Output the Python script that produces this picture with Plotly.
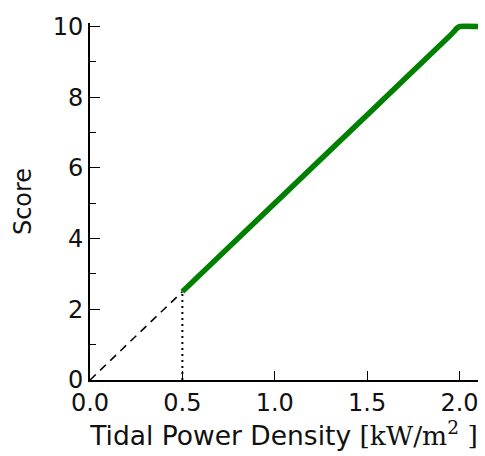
import plotly.graph_objects as go

# Score curve (green)
score_x = [0.5, 1.0, 1.5, 1.95, 1.97, 1.985, 2.0, 2.1]
score_y = [2.5, 5.0, 7.5, 9.75, 9.86, 9.95, 10.0, 10.0]
# Extrapolated dashed part
dash_x = [0.0, 0.5]
dash_y = [0.0, 2.5]
# Dotted threshold marker
dot_x = [0.5, 0.5]
dot_y = [0.0, 2.5]

x_ticks = [0.0, 0.5, 1.0, 1.5, 2.0]
x_ticklabels = ["0.0", "0.5", "1.0", "1.5", "2.0"]
y_ticks = [0, 2, 4, 6, 8, 10]

font = "DejaVu Sans, sans-serif"

fig = go.Figure()
fig.add_trace(go.Scatter(x=dash_x, y=dash_y, mode="lines",
                         line=dict(color="black", width=1.6, dash="8px,6px"), showlegend=False))
fig.add_trace(go.Scatter(x=dot_x, y=dot_y, mode="lines",
                         line=dict(color="black", width=2, dash="2px,4px"), showlegend=False))
fig.add_trace(go.Scatter(x=score_x, y=score_y, mode="lines",
                         line=dict(color="#008000", width=5.5, shape="spline", smoothing=0.6),
                         showlegend=False))

fig.update_layout(
    width=485, height=456,
    margin=dict(l=90, r=7, t=23, b=76),
    paper_bgcolor="white", plot_bgcolor="white",
    font=dict(family=font, size=24, color="#111"),
    xaxis=dict(range=[0, 2.1], tickvals=x_ticks, ticktext=x_ticklabels,
               ticks="inside", ticklen=9, tickwidth=1.2, tickcolor="black",
               showline=True, linecolor="black", linewidth=2, mirror=False,
               showgrid=False, zeroline=False,
               tickfont=dict(size=24, family=font),
               title=dict(text="Tidal Power Density <span style='font-family:DejaVu Serif'>[kW/m<sup>2</sup> ]</span>",
                          font=dict(size=26.5, family=font), standoff=10)),
    yaxis=dict(range=[0, 10.1], tickvals=y_ticks,
               ticks="inside", ticklen=10, tickwidth=1.2, tickcolor="black",
               minor=dict(tickvals=[1, 3, 5, 7, 9], ticks="inside", ticklen=6, tickwidth=1.2, tickcolor="black"),
               showline=True, linecolor="black", linewidth=2, mirror=False,
               showgrid=False, zeroline=False,
               tickfont=dict(size=24, family=font),
               title=dict(text="Score", font=dict(size=24, family=font), standoff=14)),
)

fig.write_html("out.html")
